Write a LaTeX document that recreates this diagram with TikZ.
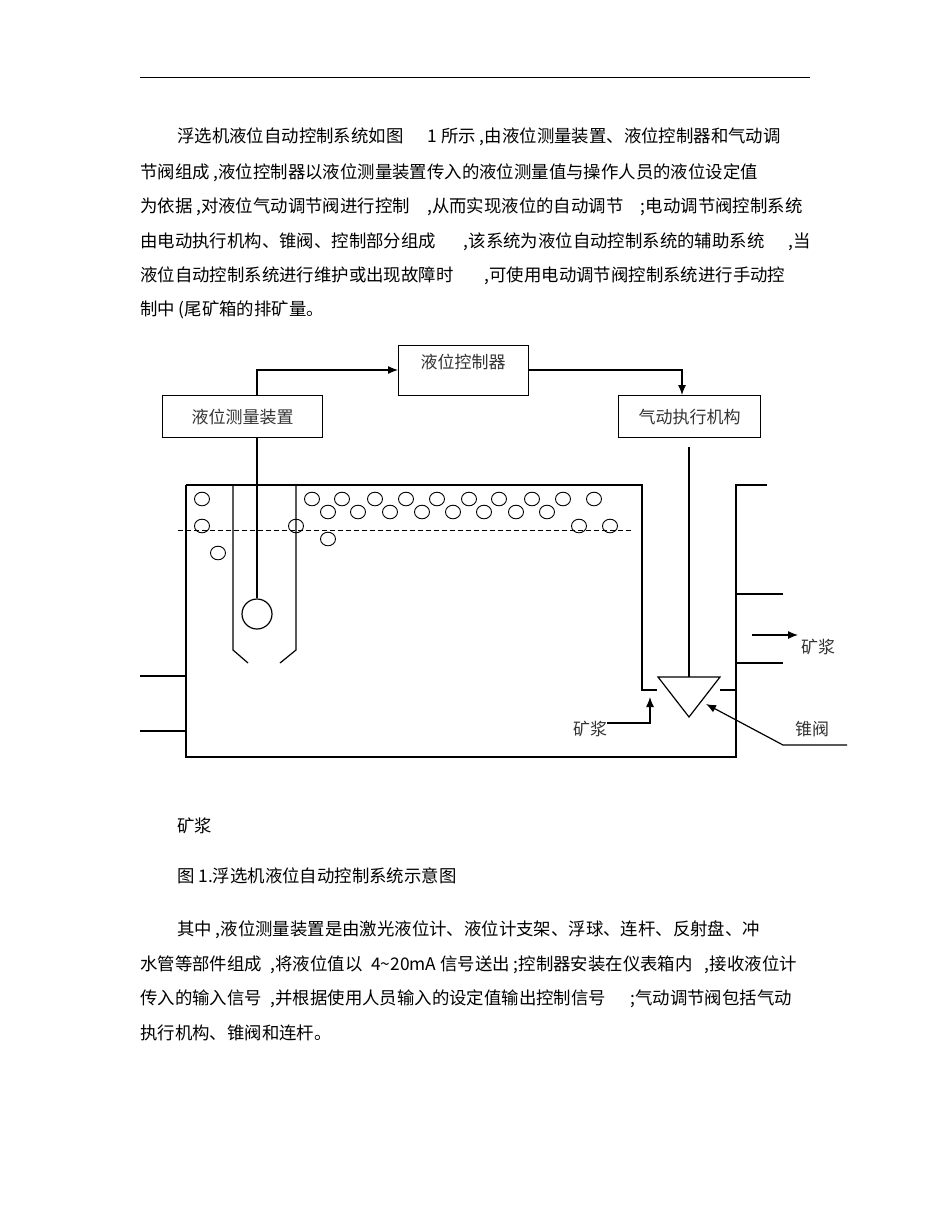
\documentclass[tikz,border=0pt]{standalone}
\usepackage{fontspec}
\setmainfont{Noto Sans CJK SC}
\usetikzlibrary{arrows.meta}
\begin{document}
\begin{tikzpicture}[x=1pt,y=-1pt,
  txt/.style={anchor=west,inner sep=0pt,font=\fontsize{17.4}{19}\selectfont},
  lbl/.style={inner sep=0pt,font=\fontsize{17}{19}\selectfont,text=black!80},
  blk/.style={draw,line width=1.4pt,minimum height=42pt,inner sep=0pt,font=\fontsize{17}{19}\selectfont,text=black!80},
  ln/.style={line width=1.2pt},
  arr/.style={ln,-{Latex[length=10pt,width=8pt]}},
  bub/.style={line width=0.9pt}]
\useasboundingbox (0,0) rectangle (950,1230);
\fill[white] (0,0) rectangle (950,1230);
\draw[line width=0.8pt] (140,77) -- (810,77);
% paragraph 1
\node[txt] (l1) at (177,137) {浮选机液位自动控制系统如图\hspace{1.4em}1 所示 ,由液位测量装置、液位控制器和气动调};
\node[txt] (l2) at (140,173) {节阀组成 ,液位控制器以液位测量装置传入的液位测量值与操作人员的液位设定值};
\node[txt] (l3) at (140,207) {为依据 ,对液位气动调节阀进行控制\hspace{1em},从而实现液位的自动调节\hspace{1em};电动调节阀控制系统};
\node[txt] (l4) at (140,242) {由电动执行机构、锥阀、控制部分组成\hspace{1.6em},该系统为液位自动控制系统的辅助系统\hspace{1.4em},当};
\node[txt] (l5) at (140,276) {液位自动控制系统进行维护或出现故障时\hspace{1.8em},可使用电动调节阀控制系统进行手动控};
\node[txt] (l6) at (140,310) {制中 (尾矿箱的排矿量。};
% boxes
\node[blk,minimum width=130pt,minimum height=50pt,anchor=north west] (ctl) at (398,345) {};
\node[lbl] (ctlt) at (463,362) {液位控制器};
\node[blk,minimum width=160pt,anchor=north west] (meas) at (162,395) {液位测量装置};
\node[blk,minimum width=142pt,anchor=north west] (act) at (618,395) {气动执行机构};
\coordinate (c1) at (257,370);
\coordinate (c2) at (682,370);
\draw[arr] (257,395) -- (c1) -- (ctl.west |- c1);
\draw[arr] (ctl.east |- c2) -- (c2) -- (682,395);
% tank
\draw[ln] (186,485) -- (642,485) -- (642,690) -- (657,690);
\draw[ln] (186,485) -- (186,757) -- (736,757) -- (736,485) -- (767,485);
\draw[ln] (736,594) -- (783,594);
\draw[ln] (736,663) -- (783,663);
\draw[ln] (720,690) -- (736,690);
\draw[ln] (140,676) -- (186,676);
\draw[ln] (140,731) -- (186,731);
\draw[line width=1pt,dash pattern=on 5pt off 3pt] (178,530) -- (632,530);
% bracket & float
\draw[ln] (233,485) -- (233,650) -- (248,663);
\draw[ln] (296,485) -- (296,650) -- (280,663);
\node[draw,circle,line width=1.2pt,minimum size=30pt,inner sep=0pt] (ball) at (257,614) {};
\draw[ln] (meas.south -| ball) -- (ball.north);
% bubbles
\foreach \x/\y in {202/499,312/499,342/499,375/499,406/499,437/499,469/499,499/499,532/499,563/499,594/499,
  328/512,358/512,390/512,422/512,453/512,484/512,516/512,547/512,
  202/526,296/526,579/526,610/526,328/539,218/553}
  \draw[bub] (\x,\y) ellipse (7.5pt and 6.8pt);
% valve
\draw[ln] (658,677) coordinate (vl) -- (720,677) coordinate (vr) -- (689,717) coordinate (vb) -- cycle;
\coordinate (vt) at (689,677);
\coordinate (rodtop) at (689,447);
\draw[ln] (rodtop) -- (vt);
% labels and arrows
\node[lbl] (out) at (818,647) {矿浆};
\coordinate (o0) at (752,635);
\coordinate (o1) at (798,635);
\draw[arr] (o0) -- (o1);
\node[lbl] (inl) at (590,729) {矿浆};
\coordinate (i1) at (650,723);
\draw[arr] (inl.east |- i1) -- (i1) -- (650,697);
\node[lbl] (cone) at (812,729) {锥阀};
\coordinate (k1) at (783,745);
\draw[arr] (847,745) -- (k1) -- (706,704);
% lower text
\node[txt] (s1) at (177,826) {矿浆};
\node[txt] (cap) at (177,876) {图 1.浮选机液位自动控制系统示意图};
\node[txt] (p1) at (177,930) {其中 ,液位测量装置是由激光液位计、液位计支架、浮球、连杆、反射盘、冲};
\node[txt] (p2) at (140,965) {水管等部件组成\hspace{0.5em},将液位值以\hspace{0.5em}4\textasciitilde 20mA 信号送出 ;控制器安装在仪表箱内\hspace{0.7em},接收液位计};
\node[txt] (p3) at (140,999) {传入的输入信号\hspace{0.5em},并根据使用人员输入的设定值输出控制信号\hspace{1.4em};气动调节阀包括气动};
\node[txt] (p4) at (140,1033) {执行机构、锥阀和连杆。};
\end{tikzpicture}
\end{document}
